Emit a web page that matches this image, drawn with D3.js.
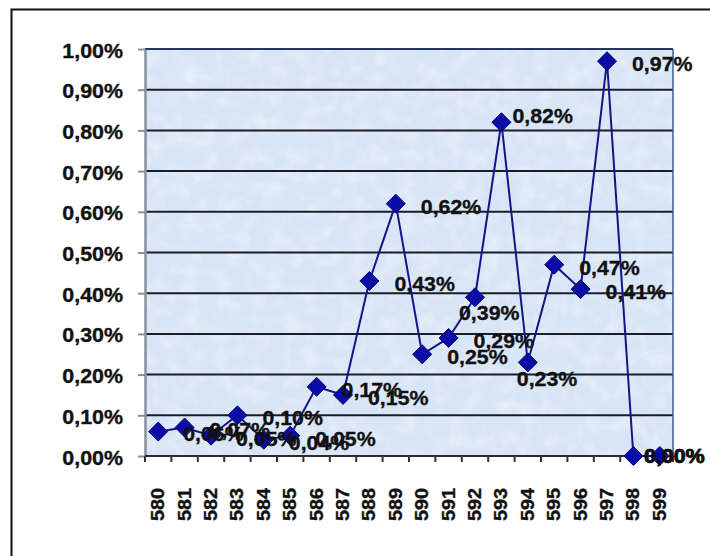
<!DOCTYPE html>
<html>
<head>
<meta charset="utf-8">
<script src="https://cdn.jsdelivr.net/npm/d3@7"></script>
<style>
  html, body { margin: 0; padding: 0; background: #fff; }
  svg { display: block; }
  text { font-family: "Liberation Sans", Arial, sans-serif; font-weight: bold; fill: #111; stroke: #111; stroke-width: 0.35px; }
</style>
</head>
<body>
<svg id="chart" width="710" height="556"></svg>
<script>
// Share per code, in percent
const categories = ["580","581","582","583","584","585","586","587","588","589",
                    "590","591","592","593","594","595","596","597","598","599"];
const shares = [0.06, 0.07, 0.05, 0.10, 0.04, 0.05, 0.17, 0.15, 0.43, 0.62,
                0.25, 0.29, 0.39, 0.82, 0.23, 0.47, 0.41, 0.97, 0.00, 0.00];
const yTicks = [0, 0.1, 0.2, 0.3, 0.4, 0.5, 0.6, 0.7, 0.8, 0.9, 1.0];

const data = categories.map((c, i) => ({ cat: c, value: shares[i] }));

const plot = { left: 145, top: 49, right: 673, bottom: 456 };

const svg = d3.select("#chart");

// percent label with a decimal comma
const pct = v => d3.format(".2f")(v).replace(".", ",") + "%";

// widen glyphs along the baseline
function stretch(sel, k) {
  sel.each(function () {
    const w = this.getComputedTextLength();
    this.setAttribute("textLength", w * k);
    this.setAttribute("lengthAdjust", "spacingAndGlyphs");
  });
}

const x = d3.scaleBand().domain(categories).range([plot.left, plot.right]).paddingInner(0).paddingOuter(0);
const y = d3.scaleLinear().domain([0, 1]).range([plot.bottom, plot.top]);

// mottled plot-area texture
const defs = svg.append("defs");
const f = defs.append("filter").attr("id", "paper").attr("x", 0).attr("y", 0).attr("width", 1).attr("height", 1);
f.append("feTurbulence").attr("type", "fractalNoise").attr("baseFrequency", 0.06).attr("numOctaves", 3).attr("seed", 11).attr("result", "n");
f.append("feColorMatrix").attr("in", "n").attr("type", "matrix")
  .attr("values", "0 0 0 0 1  0 0 0 0 1  0 0 0 0 1  1.3 0 0 0 -0.55").attr("result", "spots");
f.append("feComposite").attr("in", "spots").attr("in2", "SourceGraphic").attr("operator", "in");

// outer frame
svg.append("rect")
  .attr("x", 11.5).attr("y", 9.5).attr("width", 760).attr("height", 600)
  .attr("fill", "none").attr("stroke", "#111").attr("stroke-width", 2);

// plot area
svg.append("rect")
  .attr("x", plot.left).attr("y", plot.top)
  .attr("width", plot.right - plot.left).attr("height", plot.bottom - plot.top)
  .attr("fill", "#d8e5f6");
svg.append("rect")
  .attr("x", plot.left).attr("y", plot.top)
  .attr("width", plot.right - plot.left).attr("height", plot.bottom - plot.top)
  .attr("fill", "#fff").attr("opacity", 0.6).attr("filter", "url(#paper)");

// horizontal gridlines
svg.append("g").selectAll("line")
  .data(yTicks.filter(t => t > 0))
  .join("line")
  .attr("x1", plot.left).attr("x2", plot.right)
  .attr("y1", d => y(d)).attr("y2", d => y(d))
  .attr("stroke", d => d === 1 ? "#22375a" : "#1c1c24")
  .attr("stroke-width", 2);

// right border of plot area
svg.append("line")
  .attr("x1", plot.right).attr("x2", plot.right)
  .attr("y1", plot.top).attr("y2", plot.bottom)
  .attr("stroke", "#3c5c8c").attr("stroke-width", 1.5);

// y axis
const yAxis = svg.append("g")
  .attr("transform", `translate(${plot.left},0)`)
  .call(d3.axisLeft(y).tickValues(yTicks).tickSize(7).tickSizeOuter(0).tickPadding(15).tickFormat(pct));
yAxis.select(".domain").attr("stroke", "#8a9099").attr("stroke-width", 2.5);
yAxis.selectAll(".tick line").attr("stroke", "#8a9099").attr("stroke-width", 2);
yAxis.selectAll(".tick text")
  .attr("font-size", 20).attr("font-family", null).attr("fill", "#111").attr("dy", "0.4em");
stretch(yAxis.selectAll(".tick text"), 1.07);

// x axis line and boundary ticks
svg.append("line")
  .attr("x1", plot.left).attr("x2", plot.right)
  .attr("y1", plot.bottom).attr("y2", plot.bottom)
  .attr("stroke", "#2a2a2a").attr("stroke-width", 2);
const bounds = categories.map(c => x(c)).concat([x(categories[categories.length - 1]) + x.bandwidth()]);
svg.append("g").selectAll("line")
  .data(bounds)
  .join("line")
  .attr("x1", d => d).attr("x2", d => d)
  .attr("y1", plot.bottom).attr("y2", plot.bottom + 6)
  .attr("stroke", "#333").attr("stroke-width", 2);

// x labels, rotated
const xAxis = svg.append("g")
  .attr("transform", `translate(0,${plot.bottom})`)
  .call(d3.axisBottom(x).tickSize(0).tickPadding(0));
xAxis.select(".domain").remove();
xAxis.selectAll(".tick text")
  .attr("font-size", 18).attr("font-family", null).attr("fill", "#111")
  .attr("text-anchor", "end")
  .attr("dy", null).attr("y", null)
  .attr("transform", "translate(0,32) rotate(-90)")
  .attr("dominant-baseline", "central");
stretch(xAxis.selectAll(".tick text"), 1.1);

// series line
const cx = d => x(d.cat) + x.bandwidth() / 2;
svg.append("path")
  .datum(data)
  .attr("d", d3.line().x(cx).y(d => y(d.value)))
  .attr("fill", "none").attr("stroke", "#15158a").attr("stroke-width", 2);

// diamond markers
const r = 9.5;
svg.append("g").selectAll("path")
  .data(data)
  .join("path")
  .attr("transform", d => `translate(${cx(d)},${y(d.value)})`)
  .attr("d", `M0,${-r}L${r},0L0,${r}L${-r},0Z`)
  .attr("fill", "#0b0ba8").attr("stroke", "#05056e").attr("stroke-width", 1);

// value labels (right of each point, a few moved to avoid the line)
const labelShift = {
  "592": [-16, 15],
  "593": [11, -7],
  "594": [-11, 16],
  "598": [11, 0],
  "599": [-16, 0]
};
const lbl = svg.append("g").selectAll("text")
  .data(data)
  .join("text")
  .attr("x", d => cx(d) + (labelShift[d.cat] ? labelShift[d.cat][0] : 25))
  .attr("y", d => y(d.value) + (labelShift[d.cat] ? labelShift[d.cat][1] : 2.5))
  .attr("dy", "0.36em")
  .attr("font-size", 20.5)
  .text(d => pct(d.value));
stretch(lbl, 1.04);
</script>
</body>
</html>
